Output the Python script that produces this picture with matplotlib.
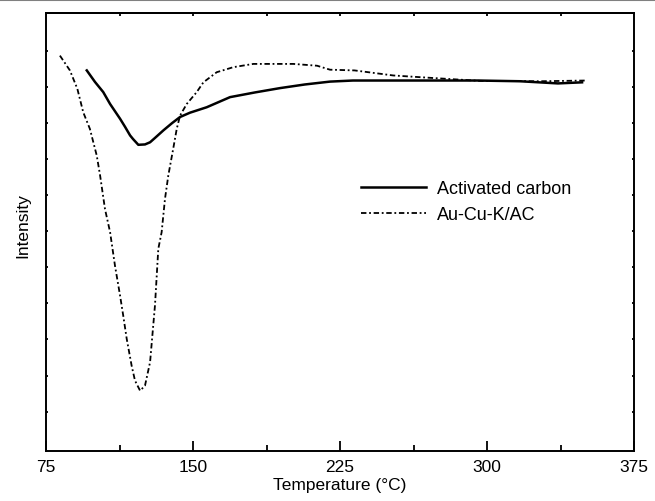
import numpy as np
import matplotlib
matplotlib.use("Agg")
import matplotlib.pyplot as plt
from matplotlib.lines import Line2D

plt.rcParams['font.family'] = ['Liberation Sans', 'DejaVu Sans']

# Activated carbon (solid)
ac_temp = [95.8, 100.0, 104.2, 107.7, 112.8, 115.3, 117.9, 119.4, 122.1, 125.5,
           128.1, 130.6, 134.9, 139.3, 143.4, 148.5, 157.0, 168.9, 181.6, 194.4,
           207.0, 219.9, 231.6, 245.4, 294.9, 316.8, 336.2, 348.5]
ac_int = [10.45, 10.13, 9.85, 9.52, 9.11, 8.89, 8.65, 8.55, 8.39, 8.40,
          8.46, 8.58, 8.79, 8.99, 9.16, 9.28, 9.43, 9.71, 9.84, 9.96,
          10.06, 10.14, 10.17, 10.17, 10.17, 10.15, 10.09, 10.12]

# Au-Cu-K/AC (dash-dot)
cat_temp = [82.1, 87.2, 91.0, 94.0, 97.4, 100.9, 102.6, 105.1, 107.7, 110.2,
            112.8, 114.4, 116.2, 118.7, 120.4, 123.0, 125.5, 128.1, 129.7, 130.6,
            132.3, 134.0, 135.7, 137.4, 139.9, 141.7, 143.4, 146.8, 151.9, 155.3,
            162.1, 170.6, 180.8, 201.2, 213.3, 219.9, 232.4, 252.2, 272.4, 296.4,
            327.0, 350.5]
cat_int = [10.86, 10.45, 9.94, 9.29, 8.83, 8.09, 7.54, 6.61, 5.97, 5.04,
           4.21, 3.66, 3.01, 2.27, 1.86, 1.58, 1.72, 2.37, 3.38, 3.94,
           5.51, 5.97, 6.89, 7.54, 8.28, 8.83, 9.20, 9.52, 9.85, 10.12,
           10.40, 10.54, 10.63, 10.63, 10.58, 10.47, 10.45, 10.31, 10.24, 10.16,
           10.15, 10.17]

x_major = [75, 150, 225, 300, 375]

fig = plt.figure(figsize=(6.55, 5.02), dpi=100)
ax = fig.add_axes([46/655, 1-452/502, (634-46)/655, (452-14)/502])

ax.plot(ac_temp, ac_int, color='black', lw=1.8, label='Activated carbon')
ax.plot(cat_temp, cat_int, color='black', lw=1.3, linestyle=(0, (3, 1.5, 1, 1.5)),
        label='Au-Cu-K/AC')

ax.set_xlim(75, 375)
ax.set_ylim(-0.09, 12.04)
ax.set_xticks(x_major)
ax.set_xticks(np.arange(112.5, 375, 75), minor=True)
ax.set_yticks(np.arange(1, 12))
ax.set_yticklabels([])

for s in ax.spines.values():
    s.set_linewidth(1.4)

ax.tick_params(axis='x', which='major', direction='in', length=7, width=1.3,
               labelsize=12.5, pad=6)
ax.tick_params(axis='x', which='minor', direction='in', length=4.5, width=1.3)
ax.tick_params(axis='y', which='major', direction='in', length=1.5, width=1.3,
               left=True, right=True)

top = ax.secondary_xaxis('top')
top.set_xticks(np.arange(112.5, 375, 37.5))
top.tick_params(direction='in', length=2, width=1.3, labeltop=False)
top.spines['top'].set_linewidth(1.4)

ax.set_xlabel('Temperature (°C)', fontsize=12.5, labelpad=2)
ax.set_ylabel('Intensity', fontsize=12.5)
ax.yaxis.set_label_coords(-0.026, 0.518)

ax.legend(loc='upper left', bbox_to_anchor=(352/655, 1-172/502),
          bbox_transform=fig.transFigure, frameon=False, fontsize=13,
          handlelength=3.6, handletextpad=0.6, labelspacing=0.5, borderpad=0)

fig.add_artist(Line2D([0, 1], [1-1/502, 1-1/502], color='#808080', lw=1.5,
                      transform=fig.transFigure))

fig.savefig('out.png', dpi=100)
